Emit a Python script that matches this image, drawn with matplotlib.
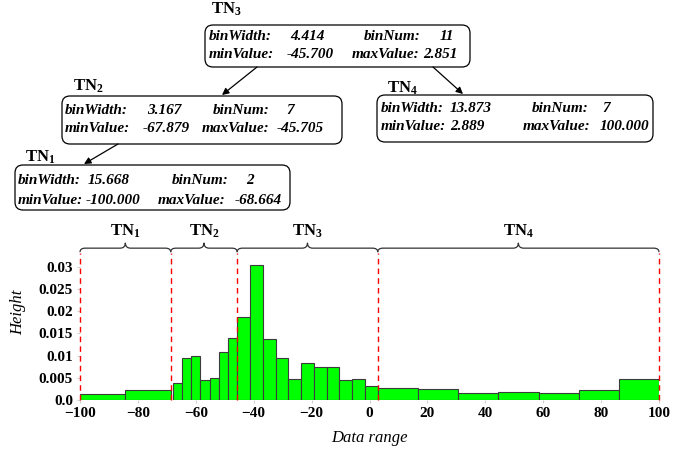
import numpy as np
import matplotlib
matplotlib.use("Agg")
import matplotlib.pyplot as plt
from matplotlib.patches import FancyBboxPatch, PathPatch
from matplotlib.path import Path

plt.rcParams['font.family'] = 'Liberation Serif'
plt.rcParams['mathtext.fontset'] = 'custom'
plt.rcParams['mathtext.rm'] = 'Liberation Serif'
plt.rcParams['mathtext.bf'] = 'Liberation Serif:bold'

# tree node summaries
node_names = ['TN1', 'TN2', 'TN3', 'TN4']
bin_width = [15.668, 3.167, 4.414, 13.873]
bin_num = [2, 7, 11, 7]
min_value = [-100.000, -67.879, -45.700, 2.889]
max_value = [-68.664, -45.705, 2.851, 100.000]

# histogram bar heights per node
heights = [
    [0.0014, 0.0022],
    [0.0038, 0.0095, 0.0098, 0.0046, 0.0049, 0.0107, 0.0139],
    [0.0188, 0.0303, 0.0137, 0.0095, 0.0047, 0.0083, 0.0074, 0.0074,
     0.0046, 0.0048, 0.0031],
    [0.0027, 0.0024, 0.0015, 0.0017, 0.0015, 0.0023, 0.0047],
]

y_ticks = [0.0, 0.005, 0.01, 0.015, 0.02, 0.025, 0.03]
y_tick_labels = ['0.0', '0.005', '0.01', '0.015', '0.02', '0.025', '0.03']
x_ticks = [-100, -80, -60, -40, -20, 0, 20, 40, 60, 80, 100]

W, H = 691, 450
fig = plt.figure(figsize=(W / 100, H / 100), dpi=100)

# ---- histogram ----
ax = fig.add_axes([80 / W, 1 - 400 / H, 579 / W, 175 / H])
for lo, w, n, hs in zip(min_value, bin_width, bin_num, heights):
    lefts = lo + w * np.arange(n)
    ax.bar(lefts, hs, width=w, align='edge', color='#00ff00',
           edgecolor='#3c3c3c', linewidth=0.8)

ax.set_xlim(-100, 100)
ax.set_ylim(0, 175 / 4440)
top_line = 0.0331
bounds = [min_value[0]] + max_value[:3] + [max_value[3]]
for b in bounds:
    ax.plot([b, b], [0, top_line], color='red', linestyle=(0, (4, 3)),
            linewidth=1.0, clip_on=False, zorder=5)


def brace(ax, x0, x1, yb, yl, yt, dx):
    xm = (x0 + x1) / 2
    verts = [(x0, yb), (x0, yl), (x0 + dx, yl), (xm - dx, yl),
             (xm, yl), (xm, yt), (xm, yl), (xm + dx, yl),
             (x1 - dx, yl), (x1, yl), (x1, yb)]
    codes = [Path.MOVETO, Path.CURVE3, Path.CURVE3, Path.LINETO,
             Path.CURVE3, Path.CURVE3, Path.CURVE3, Path.CURVE3,
             Path.LINETO, Path.CURVE3, Path.CURVE3]
    ax.add_patch(PathPatch(Path(verts, codes), facecolor='none',
                           edgecolor='#333333', linewidth=0.9, clip_on=False))


for i, name in enumerate(node_names):
    x0 = bounds[i]
    x1 = bounds[i + 1]
    brace(ax, x0, x1, 0.0333, 0.0342, 0.0354, 1.8)
    ax.text((x0 + x1) / 2, 0.0360, r'$\mathbf{TN_%s}$' % name[2:],
            ha='center', va='bottom', fontsize=12)

ax.set_yticks(y_ticks)
ax.set_yticklabels(y_tick_labels)
ax.set_xticks(x_ticks)
for s in ax.spines.values():
    s.set_visible(False)
ax.tick_params(axis='both', length=2, color='#d0d0d0', labelsize=11, pad=3)
for lab in ax.get_xticklabels() + ax.get_yticklabels():
    lab.set_fontweight('bold')
ax.set_xlabel('Data range', fontstyle='italic', fontsize=12, labelpad=7)
ax.set_ylabel('Height', fontstyle='italic', fontsize=12, labelpad=9)

# ---- tree of node boxes (pixel coordinates) ----
ov = fig.add_axes([0, 0, 1, 1])
ov.set_xlim(0, W)
ov.set_ylim(H, 0)
ov.axis('off')
ov.patch.set_alpha(0)

# box rect (x0, y0, x1, y1), label pos, column x positions, row y positions
boxes = [
    dict(rect=(15, 165, 290, 210), lab=(25, 157),
         cols=(18, 88, 172, 246), rows=(181, 200)),
    dict(rect=(62, 96, 342, 144), lab=(73, 86),
         cols=(65, 147, 213, 286), rows=(110, 128)),
    dict(rect=(205, 25, 470, 67), lab=(211, 9),
         cols=(209, 290, 364, 440), rows=(37, 55)),
    dict(rect=(377, 95, 653, 142), lab=(387, 88),
         cols=(381, 450, 532, 602), rows=(109, 127)),
]
val_cols2 = [(86, 158, 235), (143, 202, 277), (287, 352, 423), (450, 523, 600)]

tstyle = dict(fontsize=11, fontweight='bold', fontstyle='italic',
              va='center', ha='left')
for i, bx in enumerate(boxes):
    x0, y0, x1, y1 = bx['rect']
    ov.add_patch(FancyBboxPatch((x0, y0), x1 - x0, y1 - y0,
                                boxstyle='round,pad=0,rounding_size=8',
                                facecolor='white', edgecolor='black',
                                linewidth=0.9))
    ov.text(bx['lab'][0], bx['lab'][1], r'$\mathbf{TN_%d}$' % (i + 1),
            fontsize=12, ha='left', va='center')
    c = bx['cols']
    r = bx['rows']
    c2 = val_cols2[i]
    ov.text(c[0], r[0], 'binWidth:', **tstyle)
    ov.text(c[1], r[0], '%.3f' % bin_width[i], **tstyle)
    ov.text(c[2], r[0], 'binNum:', **tstyle)
    ov.text(c[3], r[0], '%d' % bin_num[i], **tstyle)
    ov.text(c[0], r[1], 'minValue:', **tstyle)
    ov.text(c2[0], r[1], '%.3f' % min_value[i], **tstyle)
    ov.text(c2[1], r[1], 'maxValue:', **tstyle)
    ov.text(c2[2], r[1], '%.3f' % max_value[i], **tstyle)

arrows = [((257, 67), (222, 95)), ((433, 67), (463, 94)), ((118, 144), (84, 164))]
for (sx, sy), (ex, ey) in arrows:
    ov.annotate('', xy=(ex, ey), xytext=(sx, sy),
                arrowprops=dict(arrowstyle='-|>', color='black', lw=0.9,
                                mutation_scale=10, shrinkA=0, shrinkB=0))

fig.savefig('out.png', dpi=100)
